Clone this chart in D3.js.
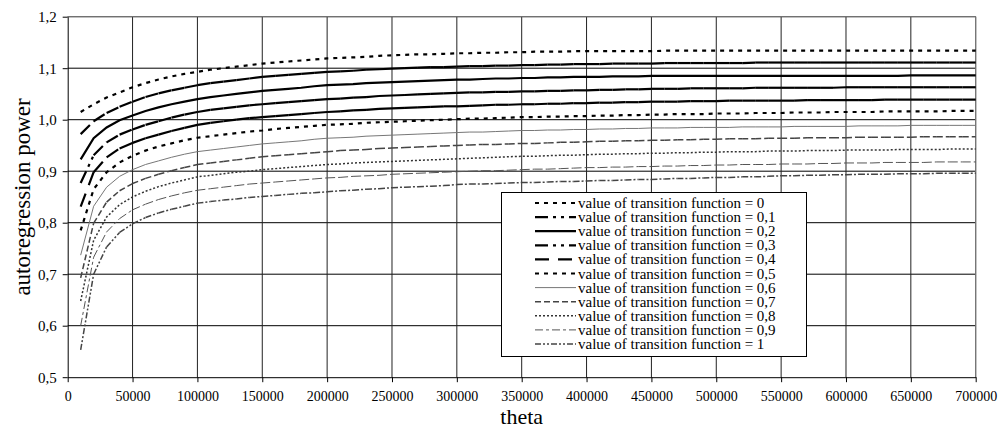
<!DOCTYPE html>
<html>
<head>
<meta charset="utf-8">
<script src="https://cdn.jsdelivr.net/npm/d3@7"></script>
<style>
  body { margin: 0; background: #fff; }
  svg { display: block; }
  text { font-family: "Liberation Serif", "Times New Roman", serif; fill: #000; }
</style>
</head>
<body>
<svg id="chart" width="999" height="432"></svg>
<script>
// theta values at which the autoregression power was evaluated
const theta = [
  10000, 20000, 30000, 40000, 50000, 60000, 70000, 80000, 90000, 100000,
  110000, 120000, 130000, 140000, 150000, 160000, 170000, 180000, 190000, 200000,
  210000, 220000, 230000, 240000, 250000, 260000, 270000, 280000, 290000, 300000,
  310000, 320000, 330000, 340000, 350000, 360000, 370000, 380000, 390000, 400000,
  410000, 420000, 430000, 440000, 450000, 460000, 470000, 480000, 490000, 500000,
  510000, 520000, 530000, 540000, 550000, 560000, 570000, 580000, 590000, 600000,
  610000, 620000, 630000, 640000, 650000, 660000, 670000, 680000, 690000, 700000
];

// legend names: value of the transition function for each curve
const transitionValues = ["0", "0,1", "0,2", "0,3", "0,4", "0,5", "0,6", "0,7", "0,8", "0,9", "1"];

// autoregression power, one array per transition-function value
const power00 = [
  1.015,1.030,1.043,1.053,1.063,1.071,1.078,1.084,1.089,1.093,
  1.097,1.100,1.103,1.106,1.109,1.111,1.113,1.115,1.117,1.119,
  1.120,1.121,1.122,1.124,1.125,1.126,1.127,1.127,1.128,1.129,
  1.129,1.130,1.130,1.131,1.131,1.132,1.132,1.132,1.133,1.133,
  1.133,1.133,1.133,1.133,1.133,1.134,1.134,1.134,1.134,1.134,
  1.134,1.134,1.134,1.134,1.134,1.134,1.134,1.134,1.134,1.134,
  1.134,1.134,1.134,1.134,1.134,1.134,1.134,1.134,1.134,1.134
];
const power01 = [
  0.972,0.997,1.013,1.025,1.035,1.044,1.051,1.057,1.062,1.067,
  1.071,1.074,1.077,1.080,1.083,1.085,1.087,1.089,1.091,1.093,
  1.094,1.095,1.097,1.098,1.099,1.100,1.101,1.102,1.102,1.103,
  1.104,1.104,1.105,1.105,1.106,1.106,1.107,1.107,1.108,1.108,
  1.108,1.109,1.109,1.109,1.109,1.110,1.110,1.110,1.110,1.110,
  1.110,1.110,1.111,1.111,1.111,1.111,1.111,1.111,1.111,1.111,
  1.111,1.111,1.111,1.111,1.111,1.111,1.111,1.111,1.111,1.111
];
const power02 = [
  0.923,0.964,0.985,0.999,1.008,1.017,1.024,1.030,1.035,1.040,
  1.044,1.047,1.050,1.053,1.056,1.058,1.060,1.062,1.065,1.067,
  1.068,1.069,1.071,1.072,1.073,1.074,1.075,1.076,1.077,1.078,
  1.078,1.079,1.080,1.080,1.081,1.081,1.082,1.082,1.083,1.083,
  1.083,1.084,1.084,1.084,1.085,1.085,1.085,1.085,1.085,1.085,
  1.085,1.085,1.085,1.085,1.085,1.085,1.085,1.085,1.085,1.085,
  1.085,1.085,1.085,1.085,1.086,1.086,1.086,1.086,1.086,1.086
];
const power03 = [
  0.877,0.931,0.956,0.971,0.981,0.990,0.997,1.004,1.010,1.015,
  1.019,1.022,1.025,1.028,1.030,1.032,1.034,1.036,1.038,1.040,
  1.041,1.043,1.044,1.046,1.047,1.048,1.049,1.050,1.051,1.052,
  1.053,1.053,1.054,1.054,1.055,1.055,1.056,1.056,1.057,1.057,
  1.058,1.058,1.059,1.059,1.060,1.060,1.060,1.061,1.061,1.061,
  1.061,1.061,1.062,1.062,1.062,1.062,1.062,1.062,1.062,1.063,
  1.063,1.063,1.063,1.063,1.063,1.063,1.063,1.063,1.063,1.063
];
const power04 = [
  0.831,0.898,0.927,0.944,0.955,0.964,0.971,0.978,0.984,0.990,
  0.994,0.997,1.000,1.003,1.005,1.007,1.009,1.011,1.013,1.015,
  1.016,1.018,1.019,1.021,1.022,1.023,1.024,1.025,1.026,1.026,
  1.027,1.028,1.029,1.029,1.030,1.030,1.031,1.031,1.032,1.032,
  1.033,1.033,1.034,1.034,1.035,1.035,1.035,1.036,1.036,1.036,
  1.037,1.037,1.037,1.037,1.037,1.037,1.038,1.038,1.038,1.038,
  1.038,1.038,1.039,1.039,1.039,1.039,1.039,1.039,1.039,1.039
];
const power05 = [
  0.785,0.865,0.898,0.917,0.930,0.940,0.948,0.954,0.960,0.965,
  0.968,0.971,0.974,0.977,0.979,0.982,0.984,0.986,0.988,0.990,
  0.991,0.992,0.994,0.995,0.996,0.997,0.998,0.999,1.000,1.001,
  1.002,1.002,1.003,1.004,1.005,1.005,1.006,1.006,1.007,1.007,
  1.008,1.008,1.009,1.009,1.010,1.010,1.011,1.011,1.011,1.012,
  1.012,1.012,1.013,1.013,1.013,1.014,1.014,1.014,1.015,1.015,
  1.015,1.015,1.016,1.016,1.016,1.016,1.016,1.017,1.017,1.017
];
const power06 = [
  0.737,0.832,0.869,0.890,0.903,0.913,0.920,0.927,0.933,0.938,
  0.941,0.944,0.947,0.950,0.953,0.955,0.957,0.959,0.962,0.964,
  0.965,0.966,0.968,0.969,0.970,0.971,0.972,0.973,0.974,0.975,
  0.976,0.976,0.977,0.978,0.979,0.979,0.980,0.980,0.981,0.981,
  0.982,0.982,0.983,0.983,0.984,0.984,0.984,0.985,0.985,0.985,
  0.985,0.986,0.986,0.986,0.986,0.987,0.987,0.987,0.987,0.987,
  0.988,0.988,0.988,0.988,0.989,0.989,0.989,0.989,0.989,0.989
];
const power07 = [
  0.693,0.799,0.840,0.862,0.876,0.886,0.894,0.901,0.907,0.913,
  0.916,0.919,0.922,0.925,0.928,0.930,0.932,0.934,0.936,0.938,
  0.940,0.941,0.942,0.944,0.945,0.946,0.947,0.948,0.949,0.950,
  0.951,0.952,0.952,0.953,0.954,0.954,0.955,0.956,0.956,0.957,
  0.958,0.958,0.959,0.959,0.960,0.960,0.961,0.961,0.962,0.962,
  0.963,0.963,0.963,0.964,0.964,0.964,0.965,0.965,0.965,0.965,
  0.966,0.966,0.966,0.966,0.966,0.967,0.967,0.967,0.967,0.967
];
const power08 = [
  0.648,0.766,0.811,0.835,0.850,0.861,0.870,0.877,0.883,0.889,
  0.892,0.895,0.898,0.900,0.903,0.905,0.907,0.909,0.911,0.913,
  0.914,0.916,0.917,0.918,0.919,0.920,0.921,0.922,0.923,0.924,
  0.925,0.926,0.927,0.928,0.929,0.929,0.930,0.931,0.931,0.932,
  0.933,0.933,0.934,0.934,0.935,0.935,0.936,0.936,0.937,0.937,
  0.938,0.938,0.938,0.939,0.939,0.939,0.940,0.940,0.940,0.941,
  0.941,0.941,0.941,0.942,0.942,0.942,0.942,0.943,0.943,0.943
];
const power09 = [
  0.600,0.733,0.782,0.808,0.825,0.836,0.845,0.852,0.858,0.863,
  0.866,0.869,0.872,0.875,0.877,0.879,0.881,0.883,0.885,0.887,
  0.888,0.890,0.891,0.892,0.894,0.895,0.896,0.897,0.898,0.899,
  0.900,0.901,0.901,0.902,0.903,0.904,0.904,0.905,0.906,0.907,
  0.907,0.908,0.908,0.909,0.909,0.910,0.910,0.911,0.911,0.912,
  0.912,0.913,0.913,0.913,0.914,0.914,0.914,0.915,0.915,0.916,
  0.916,0.916,0.917,0.917,0.917,0.917,0.918,0.918,0.918,0.918
];
const power10 = [
  0.553,0.700,0.753,0.781,0.798,0.810,0.819,0.826,0.832,0.838,
  0.841,0.844,0.846,0.849,0.851,0.853,0.855,0.857,0.858,0.860,
  0.862,0.863,0.865,0.866,0.868,0.869,0.870,0.871,0.872,0.874,
  0.875,0.875,0.876,0.877,0.878,0.878,0.879,0.880,0.880,0.881,
  0.882,0.882,0.883,0.884,0.884,0.885,0.886,0.886,0.887,0.888,
  0.888,0.889,0.889,0.890,0.891,0.891,0.892,0.892,0.893,0.893,
  0.894,0.894,0.894,0.895,0.895,0.895,0.896,0.896,0.896,0.896
];

// axis ticks
const xTicks = [0, 50000, 100000, 150000, 200000, 250000, 300000, 350000,
                400000, 450000, 500000, 550000, 600000, 650000, 700000];
const yTicks = [0.5, 0.6, 0.7, 0.8, 0.9, 1.0, 1.1, 1.2];
const yTickLabels = ["0,5", "0,6", "0,7", "0,8", "0,9", "1,0", "1,1", "1,2"];

const seriesValues = [power00, power01, power02, power03, power04, power05,
                      power06, power07, power08, power09, power10];

// line styles; "restart" lines start their dash pattern afresh on every segment
const lineStyles = [
  { color: "#000", width: 2.2, dash: "4,5", restart: false },
  { color: "#000", width: 2.2, dash: "13,5,3,5,3,5", restart: true },
  { color: "#000", width: 2.2, dash: null, restart: false },
  { color: "#000", width: 2.2, dash: "13,5,3,5,3,5", restart: true },
  { color: "#000", width: 2.2, dash: "14,9", restart: true },
  { color: "#000", width: 2.2, dash: "4,5", restart: false },
  { color: "#777", width: 1, dash: null, restart: false },
  { color: "#444", width: 1.5, dash: "6,3", restart: true },
  { color: "#333", width: 1.5, dash: "2,2", restart: false },
  { color: "#555", width: 1, dash: "8,3,3,3", restart: true },
  { color: "#444", width: 1.5, dash: "6,2,2,2,2,2", restart: true }
];

const svg = d3.select("#chart");
const plotLeft = 67.7, plotRight = 975.7, plotTop = 16.7, plotBottom = 377.2;

const x = d3.scaleLinear().domain([0, 700000]).range([plotLeft, plotRight]);
const y = d3.scaleLinear().domain([0.5, 1.2]).range([plotBottom, plotTop]);

// grid
const grid = svg.append("g");
grid.selectAll("line.hg").data(yTicks.slice(1)).join("line")
  .attr("x1", plotLeft).attr("x2", plotRight)
  .attr("y1", d => y(d)).attr("y2", d => y(d))
  .attr("stroke", "#000").attr("stroke-width", 1);
grid.selectAll("line.vg").data(xTicks.slice(1)).join("line")
  .attr("x1", d => x(d)).attr("x2", d => x(d))
  .attr("y1", plotTop).attr("y2", plotBottom)
  .attr("stroke", "#222").attr("stroke-width", 1);
// plot area border (top / right)
grid.append("path")
  .attr("d", `M${plotLeft},${plotTop}H${plotRight}V${plotBottom}`)
  .attr("fill", "none").attr("stroke", "#808080").attr("stroke-width", 1);

// axes
const xAxis = d3.axisBottom(x).tickValues(xTicks).tickFormat(d3.format("d"))
  .tickSize(5).tickSizeOuter(0).tickPadding(9);
const gx = svg.append("g").attr("transform", `translate(0,${plotBottom})`).call(xAxis);
gx.selectAll("text").attr("font-size", 14);
gx.select(".domain").attr("stroke", "#000");

const yAxis = d3.axisLeft(y).tickValues(yTicks).tickFormat((d, i) => yTickLabels[i])
  .tickSize(5).tickSizeOuter(0).tickPadding(6);
const gy = svg.append("g").attr("transform", `translate(${plotLeft},0)`).call(yAxis);
gy.selectAll("text").attr("font-size", 15);
gy.select(".domain").attr("stroke", "#000");

// axis titles
svg.append("text").attr("x", (plotLeft + plotRight) / 2).attr("y", 424)
  .attr("text-anchor", "middle").attr("font-size", 22).text("theta");
svg.append("text")
  .attr("transform", `translate(30,${(plotTop + plotBottom) / 2}) rotate(-90)`)
  .attr("text-anchor", "middle").attr("font-size", 23).text("autoregression power");

// curves
const curves = svg.append("g");
const lineGen = d3.line();
seriesValues.forEach((vals, k) => {
  const st = lineStyles[k];
  const pts = theta.map((t, i) => [x(t), y(vals[i])]);
  if (st.restart) {
    curves.append("g").selectAll("line").data(d3.pairs(pts)).join("line")
      .attr("x1", d => d[0][0]).attr("y1", d => d[0][1])
      .attr("x2", d => d[1][0]).attr("y2", d => d[1][1])
      .attr("stroke", st.color).attr("stroke-width", st.width)
      .attr("stroke-dasharray", st.dash);
  } else {
    curves.append("path").attr("d", lineGen(pts))
      .attr("fill", "none").attr("stroke", st.color).attr("stroke-width", st.width)
      .attr("stroke-dasharray", st.dash);
  }
});

// legend
const lg = svg.append("g");
lg.append("rect").attr("x", 501.5).attr("y", 192.5).attr("width", 305).attr("height", 164)
  .attr("fill", "#fff").attr("stroke", "#000").attr("stroke-width", 1);
transitionValues.forEach((v, i) => {
  const st = lineStyles[i];
  const ry = 203 + i * 14.1;
  lg.append("line").attr("x1", 535).attr("x2", 576).attr("y1", ry).attr("y2", ry)
    .attr("stroke", st.color).attr("stroke-width", st.width)
    .attr("stroke-dasharray", st.dash);
  lg.append("text").attr("x", 578).attr("y", ry + 5).attr("font-size", 15)
    .text("value of transition function = " + v);
});
</script>
</body>
</html>
